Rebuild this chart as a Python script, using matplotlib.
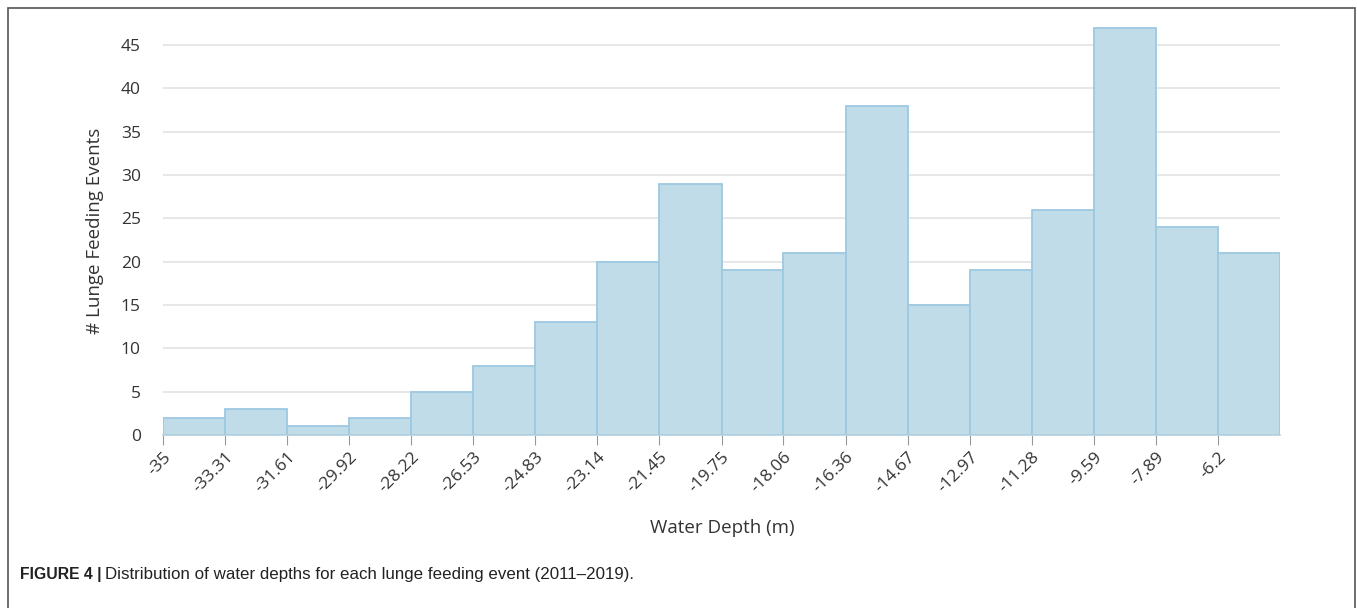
import numpy as np
import matplotlib
matplotlib.use("Agg")
import matplotlib.pyplot as plt
from matplotlib.patches import Rectangle

bin_edges = [-35, -33.31, -31.61, -29.92, -28.22, -26.53, -24.83, -23.14, -21.45,
             -19.75, -18.06, -16.36, -14.67, -12.97, -11.28, -9.59, -7.89, -6.2, -4.5]
edge_labels = ["-35", "-33.31", "-31.61", "-29.92", "-28.22", "-26.53", "-24.83", "-23.14",
               "-21.45", "-19.75", "-18.06", "-16.36", "-14.67", "-12.97", "-11.28", "-9.59",
               "-7.89", "-6.2"]
counts = [2, 3, 1, 2, 5, 8, 13, 20, 29, 19, 21, 38, 15, 19, 26, 47, 24, 21]
y_ticks = [0, 5, 10, 15, 20, 25, 30, 35, 40, 45]

plt.rcParams['font.family'] = ['Open Sans', 'DejaVu Sans']

fig = plt.figure(figsize=(13.57, 6.08), dpi=100)
ax = fig.add_axes([163/1357, 1 - 435/608, (1280 - 163)/1357, (435 - 26)/608])

edges = np.array(bin_edges)
ax.bar(edges[:-1], counts, width=np.diff(edges), align='edge',
       color='#bfdce8', edgecolor='#9cc9e2', linewidth=1.3, zorder=2)

ax.set_xlim(edges[0], edges[-1])
ax.set_ylim(0, 47.2)
ax.set_yticks(y_ticks)
ax.set_xticks(edges[:-1])
ax.set_xticklabels(edge_labels, rotation=45, ha='right', rotation_mode='anchor')
ax.grid(axis='y', color='#e3e3e3', linewidth=1.2, zorder=0)
for s in ['top', 'right', 'left']:
    ax.spines[s].set_visible(False)
ax.spines['bottom'].set_color('#b5cfdc')
ax.spines['bottom'].set_linewidth(1.2)
ax.tick_params(axis='y', length=0, labelsize=12.5, colors='#333333', pad=16)
ax.tick_params(axis='x', length=7, color='#999999', labelsize=12.5, labelcolor='#333333', pad=3)

ax.set_ylabel('# Lunge Feeding Events', fontsize=13.5, color='#333333', labelpad=12)
fig.text(722/1357, 1 - 528/608, 'Water Depth (m)', fontsize=13.5, color='#333333',
         ha='center', va='center')

t1 = fig.text(20/1357, 1 - 575/608, 'FIGURE 4 |', fontsize=11.3, fontweight='bold',
              family=['Liberation Sans Narrow', 'Liberation Sans'], color='#222222', va='center')
fig.canvas.draw()
bb = t1.get_window_extent(renderer=fig.canvas.get_renderer())
x2 = (bb.x1 + 3) / fig.bbox.width
fig.text(x2, 1 - 575/608, 'Distribution of water depths for each lunge feeding event (2011\u20132019).',
         fontsize=12.2, family=['Liberation Sans Narrow', 'Liberation Sans'], color='#222222', va='center')

fig.patches.append(Rectangle((8/1357, -0.01), (1355 - 8)/1357, (608 - 8)/608 + 0.01,
                             transform=fig.transFigure, fill=False, edgecolor='#555555',
                             linewidth=1.2))

fig.savefig('out.png', dpi=100)
